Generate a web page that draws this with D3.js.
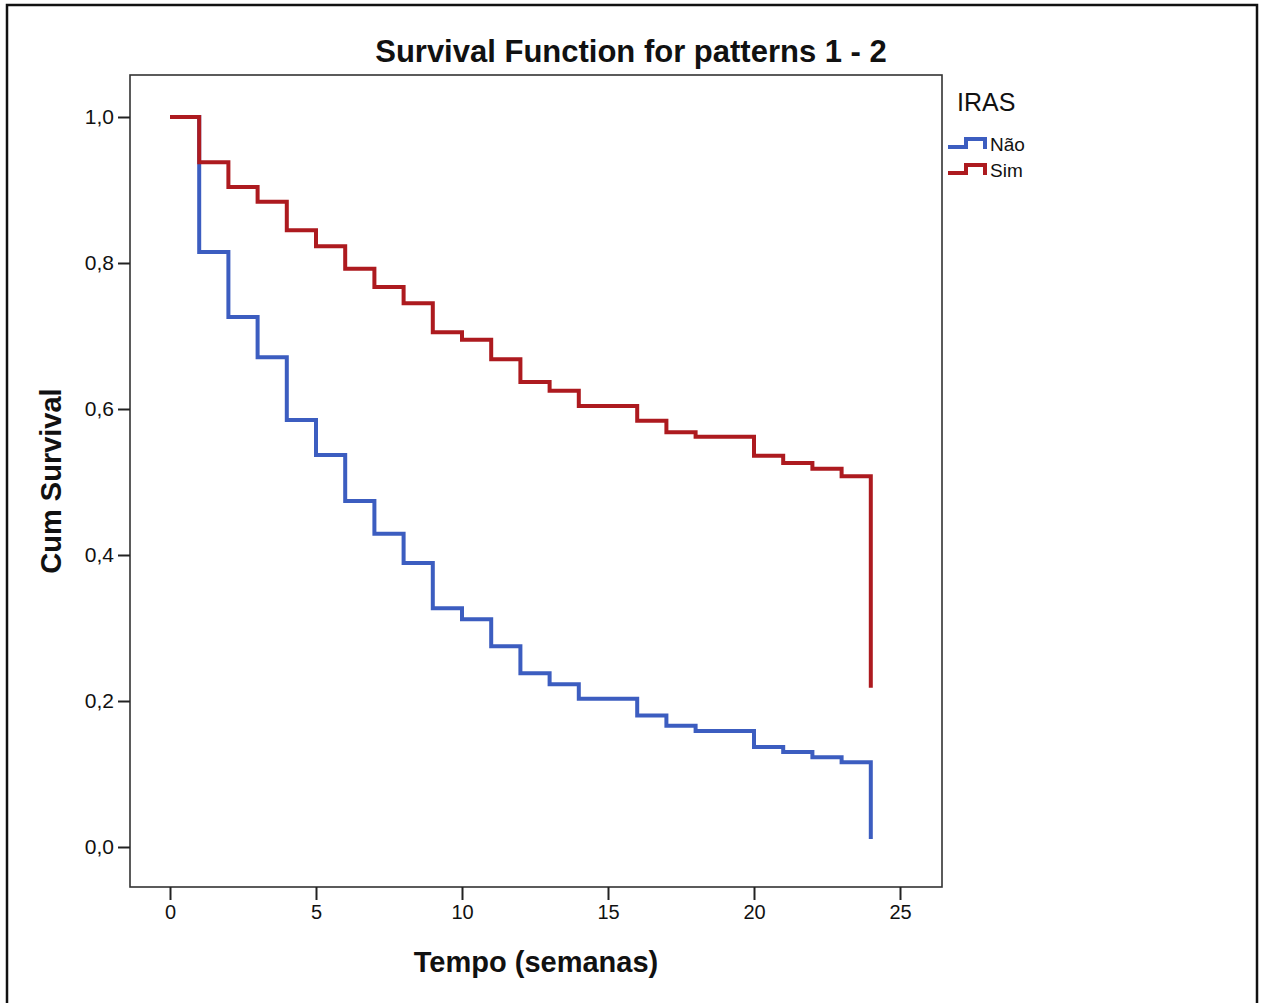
<!DOCTYPE html>
<html>
<head>
<meta charset="utf-8">
<script src="https://cdn.jsdelivr.net/npm/d3@7"></script>
<style>
  html, body { margin: 0; padding: 0; background: #fff; }
  svg { display: block; }
  text { font-family: "Liberation Sans", Arial, sans-serif; fill: #111; }
</style>
</head>
<body>
<svg id="chart" width="1263" height="1003"></svg>
<script>
// ---- data ----
const times = [0,1,2,3,4,5,6,7,8,9,10,11,12,13,14,15,16,17,18,19,20,21,22,23,24];
const naoSurv = [1.0,0.815,0.726,0.671,0.585,0.537,0.474,0.429,0.389,0.327,0.312,0.275,0.238,0.223,0.203,0.203,0.180,0.166,0.159,0.159,0.137,0.130,0.123,0.116,0.011];
const simSurv = [1.0,0.938,0.904,0.884,0.845,0.823,0.792,0.767,0.745,0.705,0.695,0.668,0.637,0.625,0.604,0.604,0.584,0.568,0.562,0.562,0.536,0.526,0.518,0.508,0.218];
const seriesNames = ["Não", "Sim"];
const xTicks = [0,5,10,15,20,25];
const yTicks = [0,0.2,0.4,0.6,0.8,1.0];
const titleText = "Survival Function for patterns 1 - 2";
const xLabel = "Tempo (semanas)";
const yLabel = "Cum Survival";
const legendTitle = "IRAS";
const colors = ["#3c5dc0", "#ad1a1f"];

// ---- layout ----
const svg = d3.select("#chart");
const frame = {left: 130, right: 942, top: 75, bottom: 887};
const x = d3.scaleLinear().domain([0, 25]).range([170, 900]);
const y = d3.scaleLinear().domain([0, 1]).range([847, 117]);
const fmt = d => d3.format(".1f")(d).replace(".", ",");

// outer border
svg.append("rect").attr("x", 7).attr("y", 5).attr("width", 1250).attr("height", 1004)
  .attr("fill", "none").attr("stroke", "#111").attr("stroke-width", 2.5);

// title
svg.append("text").attr("x", 631).attr("y", 62).attr("text-anchor", "middle")
  .attr("font-size", 31).attr("font-weight", "bold").text(titleText);

// plot frame
svg.append("rect").attr("x", frame.left).attr("y", frame.top)
  .attr("width", frame.right - frame.left).attr("height", frame.bottom - frame.top)
  .attr("fill", "none").attr("stroke", "#333").attr("stroke-width", 1.6);

// y axis
const yAxis = svg.append("g").attr("transform", `translate(${frame.left},0)`)
  .call(d3.axisLeft(y).tickValues(yTicks).tickFormat(fmt).tickSize(12).tickPadding(4));
yAxis.select(".domain").remove();
yAxis.selectAll("line").attr("stroke", "#222").attr("stroke-width", 2);
yAxis.selectAll("text").attr("font-size", 21).attr("font-family", "'Liberation Sans', Arial, sans-serif").attr("fill", "#222");

// x axis
const xAxis = svg.append("g").attr("transform", `translate(0,${frame.bottom})`)
  .call(d3.axisBottom(x).tickValues(xTicks).tickFormat(d3.format("d")).tickSize(13).tickPadding(5));
xAxis.select(".domain").remove();
xAxis.selectAll("line").attr("stroke", "#222").attr("stroke-width", 2);
xAxis.selectAll("text").attr("font-size", 20).attr("font-family", "'Liberation Sans', Arial, sans-serif").attr("fill", "#222");

// axis titles
svg.append("text").attr("x", (frame.left + frame.right) / 2).attr("y", 972).attr("text-anchor", "middle")
  .attr("font-size", 29).attr("font-weight", "bold").text(xLabel);
svg.append("text").attr("transform", `translate(61,${(frame.top + frame.bottom) / 2}) rotate(-90)`)
  .attr("text-anchor", "middle").attr("font-size", 29).attr("font-weight", "bold").text(yLabel);

// curves
const line = d3.line().x(d => x(d[0])).y(d => y(d[1])).curve(d3.curveStepAfter);
[naoSurv, simSurv].forEach((vals, i) => {
  const pts = times.map((t, j) => [t, vals[j]]);
  svg.append("path").attr("d", line(pts)).attr("fill", "none")
    .attr("stroke", colors[i]).attr("stroke-width", 4).attr("stroke-linejoin", "miter");
});

// legend
svg.append("text").attr("x", 957).attr("y", 111).attr("font-size", 25).attr("fill", "#222").text(legendTitle);
seriesNames.forEach((name, i) => {
  const yy = 147 + i * 26;
  svg.append("path").attr("d", `M948,${yy} H966 V${yy - 8} H985 V${yy + 2}`)
    .attr("fill", "none").attr("stroke", colors[i]).attr("stroke-width", 4);
  svg.append("text").attr("x", 990).attr("y", yy + 4).attr("font-size", 19).attr("fill", "#222").text(name);
});
</script>
</body>
</html>
